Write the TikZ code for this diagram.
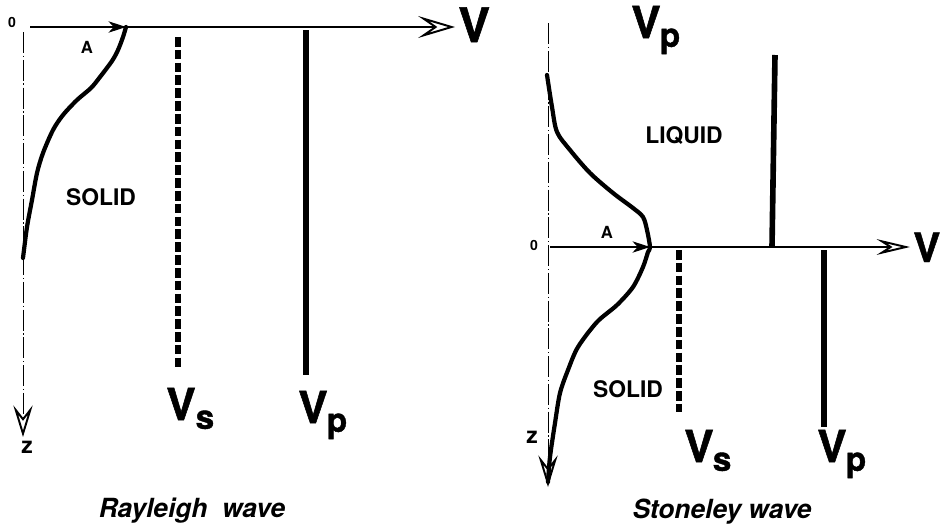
\documentclass[tikz,border=0pt]{standalone}
\usepackage{fontspec}
\setmainfont{TeX Gyre Heros}
\newfontfamily\heavyfont{texgyreheros-bold.otf}[FakeBold=1.2]
\usetikzlibrary{arrows.meta}

% velocity label: V with a lowered subscript, #2 = kern before it
\newcommand{\velo}[2]{{\fontsize{25}{27}\selectfont V\kern#2\raisebox{-5pt}{\fontsize{19}{21}\selectfont #1}}}

\begin{document}
\begin{tikzpicture}[x=0.02cm, y=-0.02cm,
    axis/.style={line width=0.6pt},
    zaxis/.style={line width=0.5pt, dash pattern=on 12pt off 1.5pt on 0.8pt off 1.5pt},
    openhead/.style n args={3}{-{Stealth[open, length=#1, width=#2, inset=#3, line width=1.1pt]}},
    fillhead/.style={-{Stealth[length=10pt, width=6.5pt, inset=3pt]}},
    profile/.style={line width=2.4pt, line cap=round, line join=round},
    vbar/.style={line width=3.2pt},
    vdash/.style={line width=3.2pt, dash pattern=on 5.5pt off 1.8pt},
    numlbl/.style={inner sep=0pt, anchor=base, font=\bfseries\fontsize{8}{9}\selectfont},
    amplbl/.style={inner sep=0pt, anchor=base, font=\bfseries\fontsize{9.5}{11}\selectfont},
    zlbl/.style={inner sep=0pt, anchor=base, font=\bfseries\fontsize{13}{15}\selectfont},
    medlbl/.style={inner sep=0pt, anchor=base, font=\bfseries\fontsize{13}{15}\selectfont},
    caplbl/.style={inner sep=0pt, anchor=base, font=\bfseries\itshape\fontsize{15}{17}\selectfont},
    vlbl/.style={inner sep=0pt, anchor=base west, font=\heavyfont}]
    \useasboundingbox (0,0) rectangle (940,531);

    % Rayleigh wave: axes
    \coordinate (oL) at (30,27);
    \coordinate (vtipL) at (455,27);
    \coordinate (ztopL) at (23,32);
    \coordinate (ztipL) at (23,437);
    \coordinate (ampL) at (126,27);
    \draw[axis, openhead={21pt}{12.5pt}{9pt}] (oL) -- (vtipL);
    \draw[zaxis, openhead={18pt}{11pt}{7pt}] (ztopL) -- (ztipL);
    \draw[axis, fillhead] (oL) -- (ampL);
    % amplitude profile in the solid
    \draw[profile] plot [smooth] coordinates {(126,27) (123,37) (118,50) (112,61) (100,77) (91,88)
        (77,100) (63,115) (53,130) (43,153) (37,173) (32,200) (27,227) (23,258)};
    % shear and compressional velocities
    \draw[vdash] (178,37) -- (178,370);
    \draw[vbar] (306,30) -- (306,375);
    \node[numlbl] (zeroL) at (12,27) {0};
    \node[amplbl] (aL) at (87,53) {A};
    \node[zlbl] (zL) at (27,453) {z};
    \node[medlbl] (solidL) at (101,205) {SOLID};
    \node[vlbl] (vL) at (458,42) {\fontsize{27}{28}\selectfont V};
    \node[vlbl] (vsL) at (166,420) {\velo{s}{0pt}};
    \node[vlbl] (vpL) at (298,423) {\velo{p}{-0.5pt}};
    \node[caplbl] (capL) at (192,517) {Rayleigh\ \ wave};

    % Stoneley wave: axes
    \coordinate (oR) at (550,247);
    \coordinate (vtipR) at (910,247);
    \coordinate (ztopR) at (548,23);
    \coordinate (ztipR) at (548,487);
    \coordinate (ampR) at (650,247);
    \draw[axis, openhead={19pt}{9pt}{7pt}] (oR) -- (vtipR);
    \draw[zaxis, openhead={18pt}{11pt}{7pt}] (ztopR) -- (ztipR);
    \draw[axis, fillhead] (oR) -- (ampR);
    % interface wave profile, decaying both ways
    \draw[profile] plot [smooth] coordinates {(547,75) (552,107) (557,132) (570,150) (590,173)
        (613,193) (633,208) (643,217) (647,230) (650,247) (648,252) (643,267) (633,287) (617,305)
        (597,322) (578,347) (568,370) (560,393) (555,423) (550,457) (548,482)};
    % velocities in liquid and solid
    \draw[vbar] (775,55) -- (772,247);
    \draw[vdash] (679,250) -- (679,412);
    \draw[vbar] (824,250) -- (824,427);
    \node[numlbl] (zeroR) at (534,250) {0};
    \node[amplbl] (aR) at (607,238) {A};
    \node[zlbl] (zR) at (532,443) {z};
    \node[medlbl] (liquidR) at (684,143) {LIQUID};
    \node[medlbl] (solidR) at (628,397) {SOLID};
    \node[vlbl] (vR) at (913,262) {\fontsize{23}{24}\selectfont V};
    \node[vlbl] (vpTopR) at (631,38) {\velo{p}{-0.5pt}};
    \node[vlbl] (vsR) at (684,462) {\velo{s}{-0.5pt}};
    \node[vlbl] (vpR) at (817,462) {\velo{p}{-0.5pt}};
    \node[caplbl] (capR) at (722,518) {Stoneley wave};
\end{tikzpicture}
\end{document}
